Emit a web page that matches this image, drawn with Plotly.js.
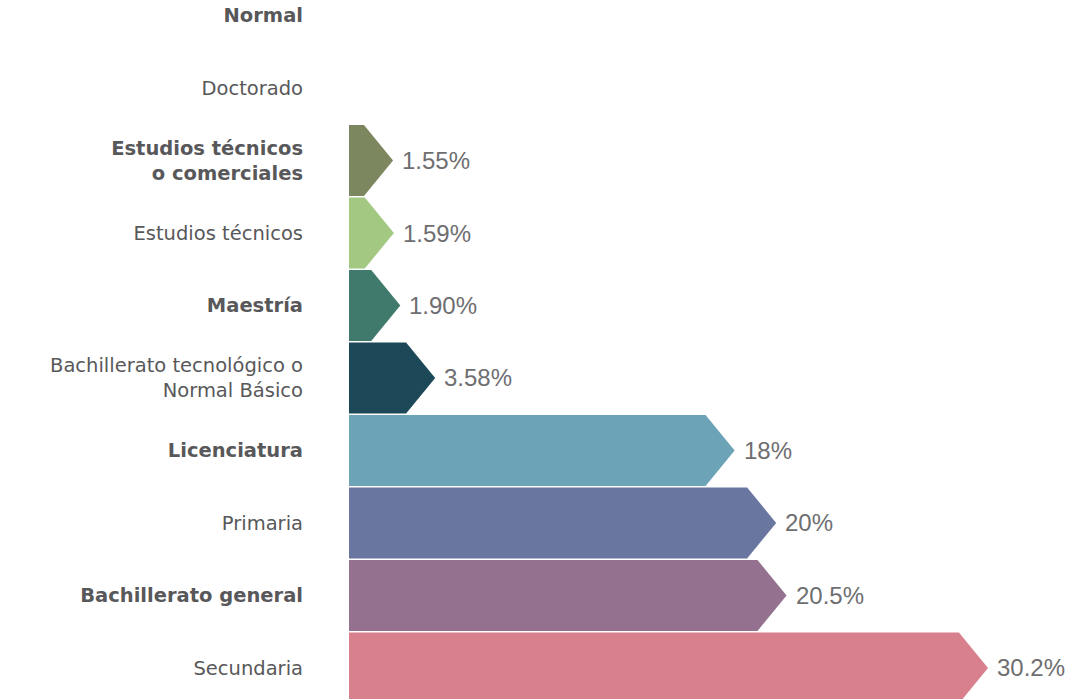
<!DOCTYPE html>
<html>
<head>
<meta charset="utf-8">
<script src="https://cdn.plot.ly/plotly-3.0.1.min.js"></script>
<style>
  html, body { margin: 0; padding: 0; background: #ffffff; }
  #chart { width: 1069px; height: 699px; }
</style>
</head>
<body>
<div id="chart"></div>
<script>
// ---- data ----
var categories = [
  "Normal",
  "Doctorado",
  "Estudios técnicos<br>o comerciales",
  "Estudios técnicos",
  "Maestría",
  "Bachillerato tecnológico o<br>Normal Básico",
  "Licenciatura",
  "Primaria",
  "Bachillerato general",
  "Secundaria"
];
var boldRow = [true, false, true, false, true, false, true, false, true, false];
var values = [null, null, 1.55, 1.59, 1.90, 3.58, 18, 20, 20.5, 30.2];
var valueLabels = ["", "", "1.55%", "1.59%", "1.90%", "3.58%", "18%", "20%", "20.5%", "30.2%"];
var colors = [null, null, "#7c875f", "#a2c882", "#3f7a6c", "#1c4857", "#6da3b7", "#6976a0", "#94728f", "#d9808e"];

// ---- styling ----
var x0 = -0.57;     // left edge of the plot, bars start here
var tip = 1.4;      // arrow tip length, in axis units
var half = 0.49;    // half bar thickness, in rows

var traces = [];
var annotations = [];
for (var i = 0; i < categories.length; i++) {
  var v = values[i];
  if (v === null) continue;
  traces.push({
    type: "scatter",
    mode: "lines",
    x: [x0, v - tip, v, v - tip, x0, x0],
    y: [i - half, i - half, i, i + half, i + half, i - half],
    fill: "toself",
    fillcolor: colors[i],
    line: { width: 0, color: colors[i] },
    hoverinfo: "skip",
    showlegend: false
  });
  annotations.push({
    x: v, y: i, xref: "x", yref: "y",
    text: valueLabels[i],
    showarrow: false,
    xanchor: "left", yanchor: "middle",
    xshift: 7,
    font: { family: "Liberation Sans, Arial, sans-serif", size: 24, color: "#6e6e70" }
  });
}

var tickText = categories.map(function (c, i) {
  return boldRow[i] ? "<b>" + c + "</b>" : c;
});

var layout = {
  width: 1069,
  height: 699,
  margin: { l: 349, r: 0, t: 0, b: 0 },
  paper_bgcolor: "#ffffff",
  plot_bgcolor: "#ffffff",
  showlegend: false,
  xaxis: {
    range: [x0, 34.1],
    showgrid: false, zeroline: false, showline: false,
    showticklabels: false, ticks: ""
  },
  yaxis: {
    range: [9.428, -0.214],
    tickmode: "array",
    tickvals: categories.map(function (c, i) { return i; }),
    ticktext: tickText,
    showgrid: false, zeroline: false, showline: false,
    ticks: "",
    ticklabelstandoff: 45,
    tickfont: { family: "DejaVu Sans, sans-serif", size: 19.5, color: "#58585a" }
  },
  annotations: annotations
};

Plotly.newPlot("chart", traces, layout, { displayModeBar: false, staticPlot: true });
</script>
</body>
</html>
